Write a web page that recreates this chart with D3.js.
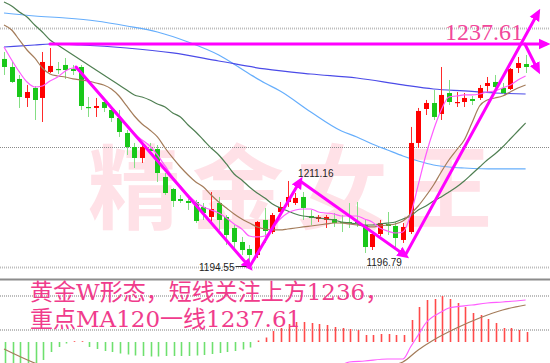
<!DOCTYPE html>
<html>
<head>
<meta charset="utf-8">
<script src="https://d3js.org/d3.v7.min.js"></script>
<style>
body, html {
    margin: 0;
    padding: 0;
    background: #fff;
}
svg { display: block; }
.grid { fill: none; stroke: #bdbdbd; stroke-width: 2; stroke-dasharray: 1,1; }
.grid.mid { stroke: #8a8a8a; stroke-width: 1; }
.ma { fill: none; stroke-width: 1.2; }
.arrow { fill: none; stroke: #f0f; stroke-width: 3; stroke-linecap: round; }
.lbl { font-family: "Liberation Sans", Arial, sans-serif; font-size: 10px; fill: #222; }
.note { font-family: "DejaVu Serif", "Noto Sans CJK SC", serif; font-size: 23px; fill: #f03c8c; }
</style>
</head>
<body>
<div id="chart"></div>
<script>

// K线数据
var opens = [1234.72,1233.17,1230.86,1227.19,1229.12,1227.19,1232.21,1232.79,1233.56,1232.79,
  1233.17,1225.45,1225.26,1226.41,1224.87,1223.32,1220.43,1217.72,1215.60,1217.34,
  1217.34,1211.93,1209.61,1207.68,1207.30,1207.10,1206.14,1204.21,1206.91,1204.21,
  1202.08,1199.38,1198.03,1196.87,1203.63,1201.31,1205.17,1207.10,1206.91,1208.07,
  1204.40,1203.82,1203.63,1203.82,1203.24,1203.24,1203.24,1202.66,1198.41,1200.92,
  1202.86,1202.47,1199.77,1201.31,1218.50,1225.06,1226.22,1224.10,1228.15,1226.22,
  1226.41,1226.99,1227.19,1229.50,1230.28,1229.12,1228.92,1232.98,1233.75];
var highs = [1236.07,1234.14,1231.63,1229.70,1229.50,1236.07,1236.84,1234.14,1234.91,1233.56,
  1233.56,1227.38,1227.19,1226.80,1225.45,1224.87,1221.01,1218.50,1218.11,1218.50,
  1218.11,1212.70,1209.81,1208.46,1207.68,1207.49,1206.91,1209.03,1208.07,1204.59,
  1202.66,1200.35,1198.80,1203.43,1205.95,1204.98,1207.10,1211.16,1208.84,1209.03,
  1205.56,1204.59,1204.59,1204.98,1204.59,1206.91,1207.10,1203.63,1201.31,1203.63,
  1205.17,1203.24,1203.05,1221.59,1225.26,1226.80,1228.73,1233.17,1230.66,1228.34,
  1228.15,1227.57,1229.70,1231.24,1231.63,1230.08,1232.98,1235.10,1235.49];
var lows = [1231.63,1230.08,1225.26,1225.45,1222.94,1222.55,1232.01,1231.82,1230.86,1231.63,
  1224.87,1223.52,1223.52,1224.48,1222.55,1219.66,1216.18,1213.67,1214.63,1216.57,
  1210.97,1208.46,1206.14,1206.91,1205.56,1203.05,1203.63,1203.24,1201.70,1198.80,
  1197.83,1196.87,1194.55,1196.29,1199.19,1200.92,1204.59,1206.14,1206.52,1203.63,
  1202.66,1203.24,1202.08,1202.28,1201.31,1202.08,1202.28,1197.26,1197.83,1200.54,
  1200.73,1198.41,1199.19,1200.92,1217.53,1223.90,1222.94,1222.94,1225.83,1225.45,
  1225.45,1225.83,1226.80,1228.34,1228.34,1227.96,1228.73,1232.01,1232.01];
var closes = [1233.17,1230.28,1227.38,1228.34,1226.80,1234.14,1233.37,1232.59,1232.59,1232.40,
  1225.64,1225.26,1225.64,1225.26,1223.32,1220.62,1217.72,1215.60,1217.72,1216.95,
  1212.70,1208.84,1207.30,1207.30,1206.91,1203.43,1204.98,1205.75,1203.63,1200.73,
  1199.38,1197.83,1196.87,1203.24,1201.50,1204.59,1206.14,1208.07,1207.88,1205.95,
  1204.01,1204.21,1204.21,1203.05,1203.05,1203.05,1203.05,1198.41,1200.92,1203.05,
  1202.47,1200.15,1202.28,1218.50,1224.68,1226.22,1223.52,1227.77,1226.41,1226.41,
  1227.19,1226.61,1229.12,1230.08,1229.31,1228.15,1232.79,1233.94,1233.17];

// 均线
var ma5 = [1237.03,1234.52,1232.21,1230.28,1229.31,1229.50,1230.47,1231.24,1232.40,1232.98,
  1232.01,1230.28,1228.73,1227.19,1225.45,1223.90,1221.78,1220.23,1219.08,1217.92,
  1216.18,1214.06,1211.93,1210.19,1208.46,1207.10,1206.14,1205.56,1204.98,1204.01,
  1202.86,1201.89,1200.54,1200.35,1200.54,1202.08,1203.82,1204.98,1205.56,1205.75,
  1205.75,1205.17,1204.98,1204.79,1204.40,1204.40,1204.40,1203.82,1203.24,1202.08,
  1201.50,1201.12,1201.31,1204.59,1210.39,1216.18,1221.01,1224.87,1227.38,1227.57,
  1227.77,1227.77,1227.96,1228.34,1228.54,1229.12,1229.70,1230.66,1231.43];
var ma10 = [1241.28,1240.32,1238.39,1236.45,1234.91,1232.98,1231.82,1231.43,1231.24,1230.86,
  1230.66,1230.47,1230.08,1229.70,1228.92,1227.57,1225.64,1223.71,1222.17,1221.01,
  1219.66,1217.53,1215.60,1213.86,1212.32,1210.97,1210.00,1208.46,1207.10,1205.95,
  1204.79,1203.82,1203.05,1202.28,1201.89,1201.70,1201.70,1201.89,1202.08,1202.28,
  1202.47,1202.66,1202.86,1203.05,1203.05,1202.86,1202.66,1202.47,1202.28,1202.47,
  1202.66,1202.86,1203.43,1204.79,1206.33,1208.26,1210.39,1212.90,1215.21,1217.14,
  1219.08,1222.36,1225.64,1226.80,1227.19,1227.57,1228.34,1229.12,1229.70];
var ma20 = [1245.72,1244.95,1243.79,1242.83,1241.28,1239.93,1238.39,1237.42,1236.45,1235.49,
  1234.52,1233.56,1232.59,1231.63,1230.66,1229.70,1228.73,1227.77,1227.38,1226.80,
  1226.03,1225.45,1224.29,1223.52,1221.97,1220.62,1219.08,1217.53,1216.18,1214.44,
  1212.51,1211.35,1210.00,1208.84,1207.88,1206.72,1205.95,1205.37,1204.79,1204.40,
  1204.21,1204.01,1203.82,1203.63,1203.24,1203.05,1202.86,1202.66,1202.66,1202.86,
  1203.05,1203.24,1203.82,1204.40,1205.56,1206.33,1207.30,1208.07,1209.03,1210.00,
  1211.16,1212.51,1213.86,1215.21,1216.37,1217.72,1219.27,1220.81,1222.36];
var ma60Idx = [0,4,8,12,16,20,24,28,32,34,36,40,44,46,48,50,52,54,56,58,60,64,68];
var ma60 = [1243.60,1243.02,1242.63,1242.05,1241.09,1239.93,1238.00,1235.49,1231.82,1230.08,
  1228.54,1224.48,1220.81,1219.66,1218.30,1217.14,1215.99,1215.02,1214.25,1213.86,
  1213.67,1213.48,1213.48];
var ma120Idx = [0,4,6,10,16,22,28,34,40,46,52,56,60,64,68];
var ma120 = [1237.03,1237.42,1237.61,1237.42,1236.84,1235.88,1234.33,1232.79,1231.82,1231.05,
  1229.70,1228.92,1228.54,1228.15,1227.96];

// MACD
var macdHist = [-3.0,-3.0,-2.8,-2.6,-2.4,-1.8,-1.0,-0.5,-0.15,0.08,
  0.08,-0.5,-0.7,-0.9,-1.0,-1.15,-1.25,-1.35,-1.4,-1.45,
  -1.45,-1.4,-1.4,-1.4,-1.4,-1.35,-1.3,-1.2,-1.1,-1.0,
  -0.9,-0.75,-0.55,0.15,0.45,1.1,1.4,1.8,2.0,2.0,
  1.9,1.8,1.7,1.5,1.4,1.3,1.2,0.7,0.7,0.8,
  0.8,0.7,0.7,2.2,3.5,4.2,4.3,4.6,4.3,3.9,
  3.5,2.9,2.7,2.3,1.9,1.4,1.4,1.2,1.0];
var difIdx = [0,10,20,30,40,44,45,47,50,52,53,54,55,57,58,61,63,65,68];
var dif = [-4.8,-4.3,-4.0,-3.8,-3.0,-2.3,-2.0,-1.9,-1.7,-1.7,-0.5,0.7,1.9,3.0,3.4,3.7,3.9,4.0,4.2];
var deaIdx = [0,4,10,20,30,40,46,50,52,54,56,59,62,65,68];
var dea = [-0.7,-2.1,-3.5,-4.2,-4.0,-3.5,-2.8,-2.4,-2.0,-0.8,0.2,1.4,2.4,3.2,3.7];

// 网格与标注
var priceGrid = [1240.70, 1217.72, 1194.55];
var macdGrid = [4.6, 1.2];
var keyLevel = 1237.61;
var wPoints = [
  {i: 9.4, p: 1233.17},
  {i: 32, p: 1194.55},
  {i: 38.6, p: 1211.16},
  {i: 52.3, p: 1196.79},
  {i: 69.6, p: 1243.6}
];
var pullback = [{i: 67.9, p: 1237.61}, {i: 69.6, p: 1232.59}];
var lowLabels = [
  {text: '1194.55', i: 32, p: 1194.55},
  {text: '1211.16', i: 38.6, p: 1211.16},
  {text: '1196.79', i: 52.3, p: 1196.79}
];
var watermark = '精金女王';
var note1 = '黄金W形态，短线关注上方1236，';
var note2 = '重点MA120一线1237.61';

var width = 550, height = 363;

var svg = d3.select('#chart').append('svg')
  .attr('width', width)
  .attr('height', height);

var x = d3.scaleLinear().domain([0, 68]).range([4, 525.6]);
var y = d3.scaleLinear().domain([1194.55, 1237.61]).range([267, 44]);
var ym = d3.scaleLinear().domain([0, 4.6]).range([342, 296]);

var defs = svg.append('defs');
defs.append('marker')
  .attr('id', 'head')
  .attr('viewBox', '0 -5 10 10')
  .attr('refX', 6)
  .attr('refY', 0)
  .attr('markerWidth', 4)
  .attr('markerHeight', 4)
  .attr('orient', 'auto')
  .append('path')
  .attr('d', 'M0,-4.5L10,0L0,4.5Z')
  .attr('fill', '#f0f');
defs.append('clipPath').attr('id', 'lower')
  .append('rect').attr('x', 0).attr('y', 281).attr('width', width).attr('height', 82);

// 水印
svg.append('text')
  .attr('x', 88)
  .attr('y', 222)
  .attr('font-family', '"Noto Sans CJK SC", sans-serif')
  .attr('font-weight', 'bold')
  .attr('font-size', 92)
  .attr('letter-spacing', 12)
  .attr('fill', '#ffe1e7')
  .text(watermark);

// 网格
svg.selectAll('line.pg').data(priceGrid).enter().append('line')
  .attr('class', function(d, k) { return k == 1 ? 'grid mid' : 'grid'; })
  .attr('x1', 0).attr('x2', width)
  .attr('y1', function(d) { return Math.round(y(d)) + 0.5; })
  .attr('y2', function(d) { return Math.round(y(d)) + 0.5; });

svg.selectAll('line.mg').data(macdGrid).enter().append('line')
  .attr('class', 'grid')
  .attr('x1', 0).attr('x2', width)
  .attr('y1', function(d) { return Math.round(ym(d)); })
  .attr('y2', function(d) { return Math.round(ym(d)); });

svg.append('line')
  .attr('x1', 0).attr('x2', width)
  .attr('y1', 279.5).attr('y2', 279.5)
  .attr('stroke', '#8c8c8c')
  .attr('stroke-width', 2);

// 均线
function maLine(vals, idx, color, w) {
  var pts = vals.map(function(v, k) { return [idx ? idx[k] : k, v]; });
  svg.append('path')
    .datum(pts)
    .attr('class', 'ma')
    .attr('stroke', color)
    .attr('stroke-width', w)
    .attr('d', d3.line()
      .x(function(d) { return x(d[0]); })
      .y(function(d) { return y(d[1]); })
      .curve(d3.curveMonotoneX));
}
maLine(ma60, ma60Idx, '#66aefc', 1.5);
maLine(ma120, ma120Idx, '#4b4be8', 1.5);

// K线
var candles = opens.map(function(o, k) {
  return {k: k, o: o, h: highs[k], l: lows[k], c: closes[k], up: closes[k] >= o};
});
var cg = svg.append('g');
cg.selectAll('line.wick').data(candles).enter().append('line')
  .attr('x1', function(d) { return Math.round(x(d.k)) + 0.5; })
  .attr('x2', function(d) { return Math.round(x(d.k)) + 0.5; })
  .attr('y1', function(d) { return y(d.h); })
  .attr('y2', function(d) { return y(d.l); })
  .attr('stroke', function(d) { return d.up ? '#ff2a2a' : '#84de84'; })
  .attr('stroke-width', 1);
cg.selectAll('rect').data(candles).enter().append('rect')
  .attr('x', function(d) { return Math.round(x(d.k)) - 2; })
  .attr('width', 5)
  .attr('y', function(d) { return y(Math.max(d.o, d.c)); })
  .attr('height', function(d) { return Math.max(1.2, Math.abs(y(d.o) - y(d.c))); })
  .attr('fill', function(d) { return d.up ? '#ff0000' : '#19c819'; });

maLine(ma20, null, '#4f7f52', 1.1);
maLine(ma10, null, '#a47c5a', 1.1);
maLine(ma5, null, '#ff5cff', 1.1);

// MACD
var lower = svg.append('g').attr('clip-path', 'url(#lower)');
lower.selectAll('line.bar').data(macdHist).enter().append('line')
  .attr('x1', function(d, k) { return Math.round(x(k)) + 1.5; })
  .attr('x2', function(d, k) { return Math.round(x(k)) + 1.5; })
  .attr('y1', ym(0))
  .attr('y2', function(d) { return ym(d); })
  .attr('stroke', function(d) { return d >= 0 ? '#ff4a4a' : '#6ee06e'; })
  .attr('stroke-width', 1.6);

function macdLine(vals, idx, color) {
  lower.append('path')
    .datum(vals.map(function(v, k) { return [idx[k], v]; }))
    .attr('fill', 'none')
    .attr('stroke', color)
    .attr('stroke-width', 1.2)
    .attr('d', d3.line()
      .x(function(d) { return x(d[0]); })
      .y(function(d) { return ym(d[1]); })
      .curve(d3.curveMonotoneX));
}
macdLine(dea, deaIdx, '#a47c5a');
macdLine(dif, difIdx, '#ff5cff');

// 关键位 1237.61
svg.append('line')
  .attr('class', 'arrow')
  .attr('stroke-width', 2.5)
  .attr('x1', x(6)).attr('x2', 546)
  .attr('y1', y(keyLevel)).attr('y2', y(keyLevel))
  .attr('marker-end', 'url(#head)');

svg.append('text')
  .attr('x', 523)
  .attr('y', 40)
  .attr('text-anchor', 'end')
  .attr('font-family', '"Liberation Serif", serif')
  .attr('font-size', 24)
  .attr('fill', '#f2479b')
  .text(keyLevel.toFixed(2));

// W形态箭头
d3.pairs(wPoints).forEach(function(pr) {
  svg.append('line')
    .attr('class', 'arrow')
    .attr('x1', x(pr[0].i)).attr('y1', y(pr[0].p))
    .attr('x2', x(pr[1].i)).attr('y2', y(pr[1].p))
    .attr('marker-end', 'url(#head)');
});
svg.append('line')
  .attr('class', 'arrow')
  .attr('stroke-width', 2.5)
  .attr('x1', x(pullback[0].i)).attr('y1', y(pullback[0].p))
  .attr('x2', x(pullback[1].i)).attr('y2', y(pullback[1].p))
  .attr('marker-end', 'url(#head)');

// 高低点标签
svg.append('text').attr('class', 'lbl')
  .attr('x', x(lowLabels[0].i) - 15).attr('y', y(lowLabels[0].p) + 3.5)
  .attr('text-anchor', 'end')
  .text(lowLabels[0].text);
svg.append('line')
  .attr('x1', x(lowLabels[0].i) - 14).attr('x2', x(lowLabels[0].i) - 3)
  .attr('y1', y(lowLabels[0].p) - 0.5).attr('y2', y(lowLabels[0].p) - 0.5)
  .attr('stroke', '#333').attr('stroke-width', 1);
svg.append('text').attr('class', 'lbl')
  .attr('x', x(lowLabels[1].i) - 2).attr('y', y(lowLabels[1].p) - 4)
  .text(lowLabels[1].text);
svg.append('text').attr('class', 'lbl')
  .attr('x', x(lowLabels[2].i) - 21).attr('y', y(lowLabels[2].p) + 11)
  .attr('text-anchor', 'middle')
  .text(lowLabels[2].text);

// 文字说明
svg.append('text').attr('class', 'note')
  .attr('x', 30).attr('y', 300)
  .text(note1);
svg.append('text').attr('class', 'note')
  .attr('x', 30).attr('y', 327)
  .text(note2);

</script>
</body>
</html>
